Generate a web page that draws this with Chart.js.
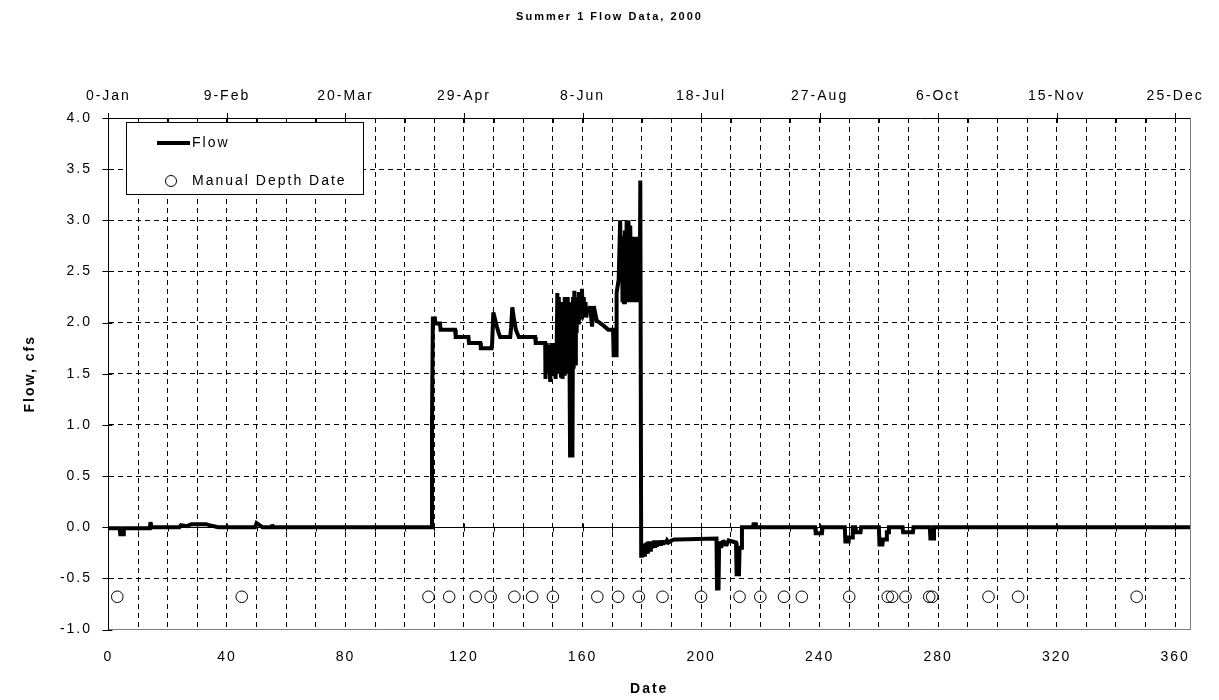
<!DOCTYPE html>
<html><head><meta charset="utf-8">
<script src="https://cdn.jsdelivr.net/npm/chart.js@4.4.1/dist/chart.umd.min.js"></script>
<style>html,body{margin:0;padding:0;background:#fff;}#wrap{width:1219px;height:700px;}</style>
</head><body><div id="wrap"><canvas id="c" width="1219" height="700"></canvas></div>
<script>
// ---- data (day of year 2000, flow in cfs) ----
const flowLowSeason = [
 [0,-0.01],[3.8,-0.01],[4.0,-0.07],[5.0,-0.07],[5.2,-0.01],[14.0,-0.01],[14.2,0.05],[14.6,0.0],
 [24.0,0.0],[24.5,0.02],[26.5,0.01],[28.0,0.03],[33.0,0.03],[34.0,0.02],[37.0,0.0],
 [49.5,0.0],[50.0,0.04],[51.0,0.02],[52.0,0.0],[55.0,0.0],[55.3,0.02],[55.8,0.0],[109.0,0.0]
];
const flowHighSeason = [
 [109.2,1.03],[109.5,2.04],[110.2,2.04],[110.3,1.99],[111.9,1.99],[112.1,1.93],[117.0,1.93],[117.2,1.86],
 [121.5,1.86],[121.7,1.80],[125.5,1.80],[125.7,1.75],[129.3,1.75],[129.5,1.80],[129.9,2.10],[130.5,2.03],
 [131.1,1.96],[131.7,1.90],[132.2,1.86],[135.6,1.86],[135.9,1.95],[136.3,2.15],[136.8,2.05],[137.5,1.93],
 [138.5,1.86],[144.0,1.86],[144.2,1.80],[147.4,1.80],[147.5,1.45],[147.9,1.80],[148.3,1.50],[148.7,1.78],
 [149.1,1.42],[149.5,1.80],[150.0,1.48],[150.5,1.80],[150.9,1.45],[151.3,1.80],[151.5,2.29],[151.75,1.55],
 [152.0,2.25],[152.25,1.50],[152.5,2.20],[152.75,1.48],[153.0,2.15],[153.25,1.45],[153.5,2.20],[153.75,1.50],
 [154.0,2.25],[154.25,1.60],[154.5,2.20],[154.75,1.50],[155.0,2.25],[155.25,1.50],[155.5,2.20],[155.8,0.70],
 [156.6,0.70],[156.8,2.25],[157.0,1.55],[157.25,2.31],[157.5,1.60],[157.75,2.25],[158.0,1.90],[158.25,2.20],
 [158.5,2.00],[158.75,2.30],[159.0,2.05],[159.25,2.25],[159.5,2.05],[159.8,2.33],[160.1,2.05],[160.4,2.25],
 [160.7,2.05],[161.0,2.20],[161.3,2.05],[161.6,2.15],[162.0,2.10],[162.6,2.16],[163.2,1.96],[163.8,2.16],
 [164.8,2.02],[167.1,1.97],[168.7,1.93],[170.3,1.93],[170.5,1.68],[171.3,1.68],[171.5,2.29],[172.2,2.42],
 [172.7,3.00],[173.0,2.50],[173.3,2.85],[173.5,2.20],[173.8,2.77],[174.0,2.20],[174.3,2.90],[174.5,2.20],
 [174.9,3.00],[175.2,2.20],[175.5,3.00],[175.8,2.20],[176.1,2.95],[176.4,2.20],[176.7,2.63],[177.0,2.20],
 [177.2,2.84],[177.5,2.20],[177.8,2.84],[178.1,2.20],[178.4,2.84],[178.7,2.20],[179.0,2.84],[179.3,2.20],
 [179.5,3.39],[179.7,3.39]
];
const flowRecession = [
 [179.8,-0.28],[180.05,-0.17],[180.3,-0.28],[180.55,-0.16],[180.8,-0.27],[181.05,-0.16],[181.3,-0.26],
 [181.55,-0.15],[181.8,-0.24],[182.05,-0.14],[182.3,-0.23],[182.55,-0.14],[182.8,-0.22],[183.05,-0.14],
 [183.3,-0.21],[183.6,-0.14],[183.9,-0.20],[184.2,-0.13],[184.5,-0.20],[184.8,-0.13],[185.1,-0.19],
 [185.4,-0.13],[185.7,-0.18],[186.0,-0.13],[186.4,-0.18],[186.8,-0.13],[187.2,-0.17],[187.6,-0.13],
 [188.0,-0.16],[188.5,-0.13],[189.0,-0.15],[190.0,-0.13],[191.0,-0.12],[192.0,-0.12],[205.2,-0.11],
 [205.4,-0.60],[205.9,-0.60],[206.1,-0.14],[206.8,-0.20],[207.5,-0.13],[208.5,-0.18],[209.3,-0.13],
 [211.8,-0.15],[212.0,-0.46],[212.8,-0.46],[213.0,-0.20],[213.6,-0.20],[213.8,0.0]
];
const flowFall = [
 [217.5,0.0],[217.7,0.03],[218.5,0.03],[218.7,0.0],[238.5,0.0],[238.7,-0.06],[240.8,-0.06],[241.0,0.0],
 [248.5,0.0],[248.7,-0.14],[249.6,-0.14],[249.8,-0.10],[251.0,-0.10],[251.2,0.0],[252.0,0.0],[252.2,-0.05],
 [253.8,-0.05],[254.0,0.0],[260.0,0.0],[260.2,-0.17],[261.2,-0.17],[261.4,-0.12],[262.5,-0.12],[262.7,-0.05],
 [263.2,-0.05],[263.4,0.0],[268.0,0.0],[268.2,-0.05],[271.5,-0.05],[271.7,0.0],[277.2,0.0],[277.4,-0.11],
 [278.4,-0.11],[278.6,0.0],[365,0.0]
];
const depthDays = [3,45,108,115,124,129,137,143,150,165,172,179,187,200,213,220,228,234,250,263,264.5,269,277,278,297,307,347];
const depthFlow = [-0.68,-0.68,-0.68,-0.68,-0.68,-0.68,-0.68,-0.68,-0.68,-0.68,-0.68,-0.68,-0.68,-0.68,
                   -0.68,-0.68,-0.68,-0.68,-0.68,-0.68,-0.68,-0.68,-0.68,-0.68,-0.68,-0.68,-0.68];
const xLabelDays = [0,40,80,120,160,200,240,280,320,360];
const topDateLabels = ['0-Jan','9-Feb','20-Mar','29-Apr','8-Jun','18-Jul','27-Aug','6-Oct','15-Nov','25-Dec'];

const FONT = "'Liberation Sans', Arial, sans-serif";
const SPACING = '2px';
const flowSeries = [...flowLowSeason, ...flowHighSeason, ...flowRecession, ...flowFall];

const spacingPlugin = {
  id: 'spacing',
  beforeUpdate(chart) { chart.ctx.letterSpacing = SPACING; },
  beforeLayout(chart) { chart.ctx.letterSpacing = SPACING; },
  beforeDraw(chart) { chart.ctx.letterSpacing = SPACING; }
};

const decor = {
  id: 'decor',
  beforeDatasetsDraw(chart) {
    const {ctx, chartArea: a, scales} = chart;
    const x = scales.x, y = scales.y;
    const y0 = Math.round(y.getPixelForValue(0)) + 0.5;
    ctx.save();
    ctx.lineWidth = 1; ctx.strokeStyle = '#000'; ctx.setLineDash([]);
    ctx.beginPath(); ctx.moveTo(a.left, y0); ctx.lineTo(a.right, y0); ctx.stroke();
    ctx.beginPath();
    x.ticks.forEach(t => {
      const px = Math.round(x.getPixelForValue(t.value)) + 0.5;
      const major = xLabelDays.includes(t.value);
      ctx.moveTo(px, major ? y0 - 4 : y0); ctx.lineTo(px, y0 + 4);
      ctx.moveTo(px, major ? a.top - 5 : a.top); ctx.lineTo(px, a.top + 5);
    });
    y.ticks.forEach(t => {
      const py = Math.round(y.getPixelForValue(t.value)) + 0.5;
      ctx.moveTo(a.left - 6, py); ctx.lineTo(a.left + 4, py);
    });
    ctx.stroke();
    ctx.strokeStyle = '#808080';
    ctx.beginPath(); ctx.moveTo(Math.round(a.right) + 0.5, a.top); ctx.lineTo(Math.round(a.right) + 0.5, a.bottom); ctx.stroke();
    ctx.restore();
    ctx.miterLimit = 2;
  },
  afterDatasetsDraw(chart) {
    const {ctx} = chart;
    const ds = chart.data.datasets;
    const bx = 126, by = 122, bw = 237, bh = 72;
    ctx.save();
    ctx.letterSpacing = SPACING;
    ctx.fillStyle = '#fff'; ctx.strokeStyle = '#000'; ctx.lineWidth = 1; ctx.setLineDash([]);
    ctx.fillRect(bx, by, bw, bh);
    ctx.strokeRect(bx + 0.5, by + 0.5, bw, bh);
    ctx.font = '14px ' + FONT; ctx.fillStyle = '#000'; ctx.textBaseline = 'middle';
    ctx.lineWidth = 4;
    ctx.beginPath(); ctx.moveTo(157, 143); ctx.lineTo(190, 143); ctx.stroke();
    ctx.fillText(ds[0].label, 192, 143);
    ctx.lineWidth = 1;
    ctx.beginPath(); ctx.arc(171, 181, 5.5, 0, Math.PI * 2); ctx.stroke();
    ctx.fillText(ds[1].label, 192, 181);
    ctx.restore();
  }
};

new Chart(document.getElementById('c'), {
  type: 'scatter',
  data: {
    datasets: [
      { label: 'Flow', data: flowSeries.map(p => ({x: p[0], y: p[1]})), showLine: true,
        borderColor: '#000', borderWidth: 4, pointRadius: 0, fill: false, order: 2,
        borderJoinStyle: 'miter', borderCapStyle: 'butt' },
      { label: 'Manual Depth Date', data: depthDays.map((d, i) => ({x: d, y: depthFlow[i]})),
        showLine: false, pointStyle: 'circle', pointRadius: 5.8, pointBackgroundColor: 'rgba(0,0,0,0)',
        pointBorderColor: '#000', pointBorderWidth: 1, order: 1 }
    ]
  },
  options: {
    responsive: false, animation: false, devicePixelRatio: 1,
    layout: { padding: 0 },
    plugins: {
      legend: { display: false }, tooltip: { enabled: false },
      title: { display: true, text: 'Summer 1 Flow Data, 2000', color: '#000',
        font: { family: FONT, size: 11, weight: 'bold' }, padding: { top: 10.4, bottom: 10 } }
    },
    scales: {
      x: {
        type: 'linear', position: 'bottom', min: 0, max: 365,
        afterFit: s => { s.height = 70.5; },
        ticks: { stepSize: 10, includeBounds: false, autoSkip: false, maxRotation: 0, padding: 19,
          color: '#000', font: { family: FONT, size: 14 },
          callback: v => xLabelDays.includes(v) ? String(v) : '' },
        grid: { color: '#000', lineWidth: 1, drawTicks: false },
        border: { display: true, color: '#808080', width: 1, dash: [5, 4] },
        title: { display: true, text: 'Date', color: '#000', font: { family: FONT, size: 14, weight: 'bold' },
          padding: { top: 0, bottom: 2.6 } }
      },
      x2: {
        type: 'linear', position: 'top', min: 0, max: 365,
        afterFit: s => { s.height = 84.4; },
        ticks: { stepSize: 10, includeBounds: false, autoSkip: false, maxRotation: 0, padding: 13.6,
          color: '#000', font: { family: FONT, size: 14 },
          callback: v => { const i = xLabelDays.indexOf(v); return i >= 0 ? topDateLabels[i] : ''; } },
        grid: { display: true, drawOnChartArea: false, drawTicks: false },
        border: { display: true, color: '#000', width: 1 }
      },
      y: {
        type: 'linear', position: 'left', min: -1, max: 4,
        afterFit: s => { s.width = 108.4; },
        ticks: { stepSize: 0.5, padding: 16.4, color: '#000', font: { family: FONT, size: 14 },
          callback: v => v.toFixed(1) },
        grid: { color: ctx => (ctx.tick && (ctx.tick.value === 4)) ? 'rgba(0,0,0,0)' : '#000', lineWidth: 1, drawTicks: false },
        border: { display: true, color: '#000', width: 1, dash: [5, 4] },
        title: { display: true, text: 'Flow, cfs', color: '#000', font: { family: FONT, size: 14, weight: 'bold' },
          padding: { top: 21.6, bottom: 0 } }
      },
      yRight: {
        type: 'linear', position: 'right', min: -1, max: 4,
        afterFit: s => { s.width = 29; },
        ticks: { display: false },
        grid: { display: false, drawOnChartArea: false, drawTicks: false },
        border: { display: false }
      }
    }
  },
  plugins: [spacingPlugin, decor]
});
</script></body></html>
